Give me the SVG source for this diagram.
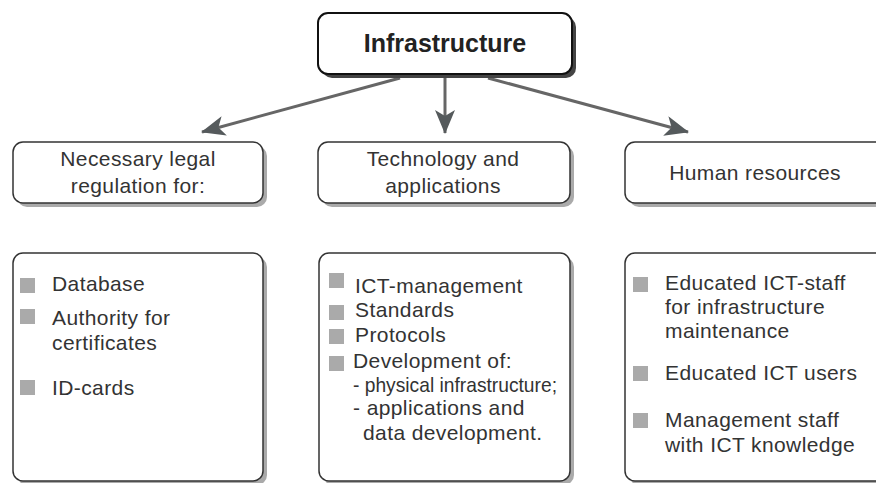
<svg xmlns="http://www.w3.org/2000/svg" width="876" height="483" viewBox="0 0 876 483">
<style>
.t{font-family:"Liberation Sans",Arial,sans-serif;font-size:21px;letter-spacing:0.4px;fill:#333;}
.c{text-anchor:middle;}
.box{fill:#fff;stroke:#333;stroke-width:1.5;}
.sh{fill:#aaa;}
.b{fill:#aaa;}
.ln{stroke:#666;stroke-width:3;fill:none;}
</style>
<defs>
<marker id="ah" markerUnits="userSpaceOnUse" markerWidth="26" markerHeight="22" refX="23" refY="10" orient="auto" viewBox="0 0 26 22">
<path d="M0,0 L24,10 L0,20 L6,10 z" fill="#555a5c"/>
</marker>
</defs>
<rect width="876" height="483" fill="#fff"/>
<g id="connectors">
<line class="ln" x1="400" y1="78" x2="202" y2="132" marker-end="url(#ah)"/>
<line class="ln" x1="445" y1="78" x2="445" y2="133" marker-end="url(#ah)"/>
<line class="ln" x1="488" y1="78" x2="688" y2="132" marker-end="url(#ah)"/>
</g>
<g id="infrastructure">
<rect x="322" y="17" width="254" height="61" rx="10" fill="#444"/>
<rect x="318" y="13" width="254" height="61" rx="10" fill="#fff" stroke="#111" stroke-width="2"/>
<text class="c" x="445" y="52" style="font-family:'Liberation Sans',Arial,sans-serif;font-size:25px;font-weight:bold;fill:#222">Infrastructure</text>
</g>
<g id="legal">
<rect class="sh" x="17" y="146" width="250" height="61" rx="10"/>
<rect class="box" x="13" y="142" width="250" height="61" rx="10"/>
<text class="t c" x="138" y="166">Necessary legal</text>
<text class="t c" x="138" y="193">regulation for:</text>
</g>
<g id="technology">
<rect class="sh" x="322" y="146" width="252" height="61" rx="10"/>
<rect class="box" x="318" y="142" width="252" height="61" rx="10"/>
<text class="t c" x="443" y="166">Technology and</text>
<text class="t c" x="443" y="193">applications</text>
</g>
<g id="human">
<rect class="sh" x="629" y="146" width="260" height="61" rx="10"/>
<rect class="box" x="625" y="142" width="260" height="61" rx="10"/>
<text class="t c" x="755" y="180">Human resources</text>
</g>
<g id="legal-list">
<rect class="sh" x="17" y="257" width="250" height="228" rx="10"/>
<rect class="box" x="13" y="253" width="250" height="228" rx="10"/>
<rect class="b" x="20" y="278" width="15" height="15"/>
<rect class="b" x="20" y="309" width="15" height="15"/>
<rect class="b" x="20" y="380" width="15" height="15"/>
<text class="t" x="52" y="291">Database</text>
<text class="t" x="52" y="325">Authority for</text>
<text class="t" x="52" y="350">certificates</text>
<text class="t" x="52" y="395">ID-cards</text>
</g>
<g id="technology-list">
<rect class="sh" x="323" y="257" width="251" height="228" rx="10"/>
<rect class="box" x="319" y="253" width="251" height="228" rx="10"/>
<rect class="b" x="329" y="273" width="15" height="15"/>
<rect class="b" x="329" y="305" width="15" height="15"/>
<rect class="b" x="329" y="329" width="15" height="15"/>
<rect class="b" x="329" y="356" width="15" height="15"/>
<text class="t" x="355" y="293">ICT-management</text>
<text class="t" x="355" y="317">Standards</text>
<text class="t" x="355" y="342">Protocols</text>
<text class="t" x="353" y="368">Development of:</text>
<text class="t" x="353" y="392" textLength="204" lengthAdjust="spacingAndGlyphs" style="letter-spacing:0">- physical infrastructure;</text>
<text class="t" x="353" y="415">- applications and</text>
<text class="t" x="363" y="440">data development.</text>
</g>
<g id="human-list">
<rect class="sh" x="629" y="257" width="260" height="228" rx="10"/>
<rect class="box" x="625" y="253" width="260" height="228" rx="10"/>
<rect class="b" x="633" y="277" width="15" height="15"/>
<rect class="b" x="633" y="366" width="15" height="15"/>
<rect class="b" x="633" y="413" width="15" height="15"/>
<text class="t" x="665" y="290">Educated ICT-staff</text>
<text class="t" x="665" y="314">for infrastructure</text>
<text class="t" x="665" y="338">maintenance</text>
<text class="t" x="665" y="380">Educated ICT users</text>
<text class="t" x="665" y="427">Management staff</text>
<text class="t" x="665" y="452">with ICT knowledge</text>
</g>
</svg>
